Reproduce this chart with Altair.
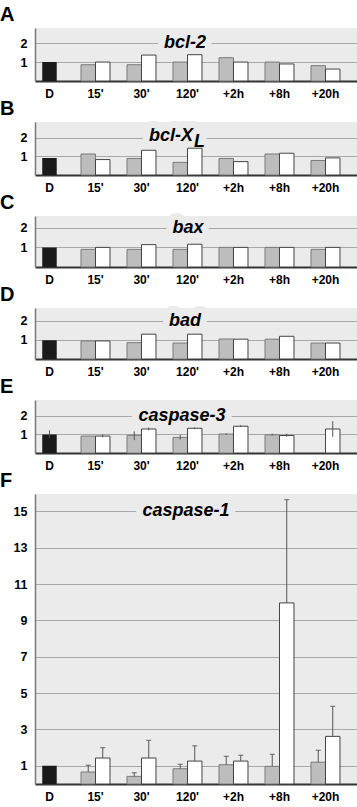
import altair as alt
import pandas as pd

cats = ["D", "15'", "30'", "120'", "+2h", "+8h", "+20h"]
treat = cats[1:]

# A  bcl-2
a_ctrl = 1.0
a_gray = [0.86, 0.86, 1.00, 1.23, 1.00, 0.81]
a_white = [1.00, 1.37, 1.39, 1.00, 0.90, 0.63]
# B  bcl-XL
b_ctrl = 0.92
b_gray = [1.13, 0.89, 0.68, 0.89, 1.13, 0.78]
b_white = [0.83, 1.33, 1.44, 0.72, 1.17, 0.92]
# C  bax
c_ctrl = 1.0
c_gray = [0.90, 0.90, 0.90, 1.00, 1.00, 0.90]
c_white = [1.00, 1.14, 1.16, 1.00, 1.00, 1.00]
# D  bad
d_ctrl = 0.97
d_gray = [0.94, 0.85, 0.83, 1.04, 1.03, 0.83]
d_white = [0.94, 1.29, 1.29, 1.03, 1.18, 0.83]
# E  caspase-3 (error bars both directions)
e_ctrl = 1.0
e_ctrl_lo, e_ctrl_hi = 0.80, 1.22
e_gray = [0.91, 0.95, 0.84, 1.02, 0.98, None]
e_gray_lo = [None, 0.69, 0.72, 0.98, 0.94, None]
e_gray_hi = [None, 1.16, 0.98, 1.06, 1.04, None]
e_white = [0.91, 1.29, 1.33, 1.44, 0.94, 1.29]
e_white_lo = [0.84, 1.22, 1.28, 1.40, 0.88, 0.87]
e_white_hi = [1.00, 1.37, 1.38, 1.50, 1.04, 1.71]
# F  caspase-1 (upper error bars)
f_ctrl = 1.0
f_gray = [0.66, 0.42, 0.84, 1.06, 0.97, 1.20]
f_gray_hi = [1.03, 0.62, 1.08, 1.52, 1.63, 1.85]
f_white = [1.43, 1.43, 1.26, 1.26, 9.96, 2.62]
f_white_hi = [2.00, 2.40, 2.10, 1.58, 15.64, 4.27]

FONT = "Liberation Sans, Arial, Helvetica, sans-serif"
BG = "#ebebeb"
W = 322


def make_df(gray, white, glo=None, ghi=None, wlo=None, whi=None):
    rows = []
    for i, c in enumerate(treat):
        for s, vals, lo, hi in (("g", gray, glo, ghi), ("w", white, wlo, whi)):
            v = vals[i]
            if v is None:
                continue
            rows.append({"cat": c, "series": s, "value": v,
                         "lo": None if lo is None else lo[i],
                         "hi": None if hi is None else hi[i]})
    return pd.DataFrame(rows)


xscale = alt.Scale(domain=cats, paddingInner=0.37, paddingOuter=0.185, align=0)
xaxis = alt.Axis(title=None, labelAngle=0, ticks=False, domainColor="#333333",
                 domainWidth=2, labelFontSize=12, labelFontWeight="bold",
                 labelFont=FONT, labelColor="black", labelPadding=7, grid=False)
offscale = alt.Scale(domain=["g", "w"], paddingInner=0, paddingOuter=0)


def panel(letter, df, ctrl, ymax, h, yvals, tdatum, titles, err=None, ctrl_err=None):
    yaxis = alt.Axis(title=None, values=yvals, ticks=False, grid=True,
                     gridColor="#a8a8a8", gridWidth=1, domainColor="#777777",
                     domainWidth=1.5, labelFontSize=12.5, labelFontWeight="bold",
                     labelFont=FONT, labelColor="black", labelPadding=8,
                     minExtent=35, maxExtent=35)
    yscale = alt.Scale(domain=[0, ymax], nice=False, zero=True)
    x = alt.X("cat:N", scale=xscale, axis=xaxis)
    xo = alt.XOffset("series:N", scale=offscale)
    cdf = pd.DataFrame({"cat": [cats[0]], "value": [ctrl]})

    layers = []
    # background knock-out behind the title (drawn under the bars)
    for (txt, tx, dy, align, fs) in titles:
        base = dict(text=txt, font=FONT, fontStyle="italic", fontWeight="bold",
                    fontSize=fs, align=align, baseline="middle", dy=dy)
        layers.append(alt.Chart(cdf).mark_text(stroke=BG, strokeWidth=14,
                                               strokeJoin="round", fill=BG, **base).encode(
            x=alt.value(tx), y=alt.datum(tdatum)))

    bars = alt.Chart(df).mark_bar(strokeWidth=1).encode(
        x=x, xOffset=xo,
        y=alt.Y("value:Q", scale=yscale, axis=yaxis),
        fill=alt.Fill("series:N", scale=alt.Scale(domain=["g", "w"], range=["#bdbdbd", "#ffffff"]), legend=None),
        stroke=alt.Stroke("series:N", scale=alt.Scale(domain=["g", "w"], range=["#7a7a7a", "#444444"]), legend=None),
    )
    cbar = alt.Chart(cdf).mark_bar(color="#1a1a1a", width=alt.RelativeBandSize(0.5)).encode(
        x=x, y=alt.Y("value:Q"))
    layers += [bars, cbar]

    if err == "both":
        edf = df.dropna(subset=["lo", "hi"])
        layers.append(alt.Chart(edf).mark_rule(color="#555555", strokeWidth=1).encode(
            x=x, xOffset=xo, y="lo:Q", y2="hi:Q"))
        if ctrl_err is not None:
            cedf = pd.DataFrame({"cat": [cats[0]], "lo": [ctrl_err[0]], "hi": [ctrl_err[1]]})
            layers.append(alt.Chart(cedf).mark_rule(color="#555555", strokeWidth=1).encode(
                x=x, y="lo:Q", y2="hi:Q"))
    elif err == "up":
        edf = df.dropna(subset=["hi"])
        layers.append(alt.Chart(edf).mark_rule(color="#555555", strokeWidth=1).encode(
            x=x, xOffset=xo, y="value:Q", y2="hi:Q"))
        layers.append(alt.Chart(edf).mark_tick(color="#555555", size=5, thickness=1.3,
                                               orient="horizontal").encode(
            x=x, xOffset=xo, y="hi:Q"))

    for (txt, tx, dy, align, fs) in titles:
        base = dict(text=txt, font=FONT, fontStyle="italic", fontWeight="bold",
                    fontSize=fs, align=align, baseline="middle", dy=dy)
        layers.append(alt.Chart(cdf).mark_text(fill="black", **base).encode(
            x=alt.value(tx), y=alt.datum(tdatum)))

    return alt.layer(*layers).properties(
        width=W, height=h,
        title=alt.Title(letter, anchor="start", frame="bounds", fontSize=20,
                        font=FONT, fontWeight="bold", color="black", offset=3),
    )


pA = panel("A", make_df(a_gray, a_white), a_ctrl, 2.8, 53, [1, 2], 2,
           [("bcl-2", 150, 0, "center", 18)])
pB = panel("B", make_df(b_gray, b_white), b_ctrl, 2.85, 53, [1, 2], 2,
           [("bcl-X", 158, -2, "right", 18), ("L", 159, 4, "left", 18)])
pC = panel("C", make_df(c_gray, c_white), c_ctrl, 2.6, 51, [1, 2], 2,
           [("bax", 153, 0, "center", 18)])
pD = panel("D", make_df(d_gray, d_white), d_ctrl, 2.65, 51, [1, 2], 2,
           [("bad", 150, 0, "center", 18)])
pE = panel("E", make_df(e_gray, e_white, e_gray_lo, e_gray_hi, e_white_lo, e_white_hi),
           e_ctrl, 2.85, 53, [1, 2], 2, [("caspase-3", 147, 0, "center", 18)],
           err="both", ctrl_err=(e_ctrl_lo, e_ctrl_hi))
pF = panel("F", make_df(f_gray, f_white, None, f_gray_hi, None, f_white_hi),
           f_ctrl, 15.95, 290, [1, 3, 5, 7, 9, 11, 13, 15], 15,
           [("caspase-1", 151, 0, "center", 18)], err="up")

chart = alt.vconcat(pA, pB, pC, pD, pE, pF, spacing=0).properties(
    padding={"left": 0, "right": 0, "top": 5, "bottom": 0}
).configure_view(fill=BG, stroke=None)

chart.save("out.html", embed_options={"renderer": "svg", "actions": False})
